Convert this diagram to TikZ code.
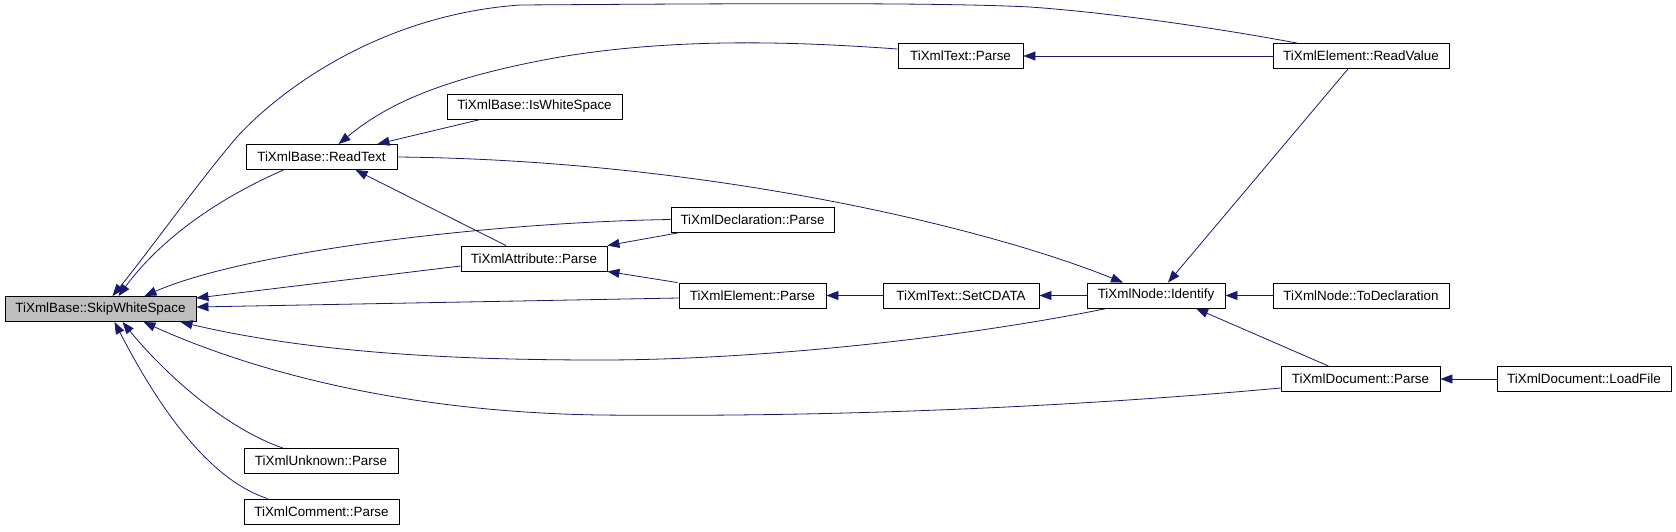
\documentclass[tikz,border=0pt]{standalone}
\usepackage{fontspec}
\setmainfont{Liberation Sans}
\usepackage{xcolor}
\usetikzlibrary{arrows.meta}
\definecolor{edgeblue}{RGB}{25,25,112}

\begin{document}
\begin{tikzpicture}[x=1pt,y=-1pt,>={Triangle[length=12pt,width=9pt]},
 font=\fontsize{13.4}{15}\selectfont,
 fn/.style={draw=black,fill=white,line width=0.9pt,inner sep=0pt,minimum height=25pt},
 root/.style={fn,fill=gray!50},
 call/.style={<-,draw=edgeblue,line width=0.8pt}]
\useasboundingbox (0,0) rectangle (1676,531);
\node[root,minimum width=191pt] (skip) at (100.5,309) {TiXmlBase::SkipWhiteSpace};
\node[fn,minimum width=151pt] (readtext) at (321.5,157) {TiXmlBase::ReadText};
\node[fn,minimum width=175pt] (iswhite) at (534.5,106.5) {TiXmlBase::IsWhiteSpace};
\node[fn,minimum width=125pt] (textparse) at (960.5,56) {TiXmlText::Parse};
\node[fn,minimum width=176pt] (readvalue) at (1361,56) {TiXmlElement::ReadValue};
\node[fn,minimum width=163pt] (declparse) at (752.5,219.5) {TiXmlDeclaration::Parse};
\node[fn,minimum width=146pt] (attrparse) at (534,258.5) {TiXmlAttribute::Parse};
\node[fn,minimum width=147pt] (elemparse) at (752.5,295.5) {TiXmlElement::Parse};
\node[fn,minimum width=156pt] (setcdata) at (961,295.5) {TiXmlText::SetCDATA};
\node[fn,minimum width=138pt] (identify) at (1156,295.5) {TiXmlNode::Identify};
\node[fn,minimum width=176pt] (todecl) at (1361,295.5) {TiXmlNode::ToDeclaration};
\node[fn,minimum width=159pt] (docparse) at (1360.5,379) {TiXmlDocument::Parse};
\node[fn,minimum width=174pt] (loadfile) at (1584,379) {TiXmlDocument::LoadFile};
\node[fn,minimum width=154pt] (unknown) at (321,461) {TiXmlUnknown::Parse};
\node[fn,minimum width=155pt] (comment) at (321.5,511.5) {TiXmlComment::Parse};
\draw[call] ([xshift=12pt]skip.north) .. controls (150,250) and (200,180) .. (237,137)
  .. controls (280,90) and (380,15) .. (520,5) .. controls (800,3) and (950,3) .. (1030,7)
  .. controls (1100,12) and (1200,25) .. ([xshift=-64pt]readvalue.north);
\draw[call] ([xshift=18pt]skip.north) .. controls (160,240) and (215,200) .. ([xshift=-38pt]readtext.south);
\draw[call] ([xshift=44pt]skip.north) .. controls (250,250) and (500,222) .. (declparse.west);
\draw[call] ([yshift=11pt]skip.east) -- ([yshift=-7.5pt]attrparse.west);
\draw[call] ([yshift=2pt]skip.east) -- ([yshift=-2.5pt]elemparse.west);
\draw[call] ([xshift=80pt]skip.south) .. controls (300,350) and (430,360) .. (600,360)
  .. controls (750,360) and (950,340) .. ([xshift=-49pt]identify.south);
\draw[call] ([xshift=43pt]skip.south) .. controls (250,370) and (400,412) .. (600,415)
  .. controls (900,418) and (1150,400) .. ([yshift=-9pt]docparse.west);
\draw[call] ([xshift=22pt]skip.south) .. controls (170,380) and (230,430) .. ([xshift=-38pt]unknown.north);
\draw[call] ([xshift=14pt]skip.south) .. controls (160,410) and (210,480) .. ([xshift=-54pt]comment.north);
\draw[call] ([xshift=17pt]readtext.north) .. controls (380,110) and (430,80) .. (560,57)
  .. controls (680,37) and (800,42) .. ([yshift=7pt]textparse.west);
\draw[call] ([xshift=-20pt]readtext.north east) -- ([xshift=-54pt]iswhite.south);
\draw[call] ([xshift=34pt]readtext.south) -- ([xshift=-28pt]attrparse.north);
\draw[call] ([xshift=-33pt]identify.north) .. controls (980,225) and (700,160) .. (readtext.east);
\draw[call] (textparse.east) -- (readvalue.west);
\draw[call] (attrparse.north east) -- ([xshift=-72pt]declparse.south);
\draw[call] (attrparse.south east) -- ([xshift=-75pt]elemparse.north);
\draw[call] (elemparse.east) -- (setcdata.west);
\draw[call] (setcdata.east) -- (identify.west);
\draw[call] (identify.east) -- (todecl.west);
\draw[call] ([xshift=12pt]identify.north) -- ([xshift=-13pt]readvalue.south);
\draw[call] ([xshift=40pt]identify.south) -- ([xshift=-32pt]docparse.north);
\draw[call] (docparse.east) -- (loadfile.west);
\end{tikzpicture}
\end{document}
